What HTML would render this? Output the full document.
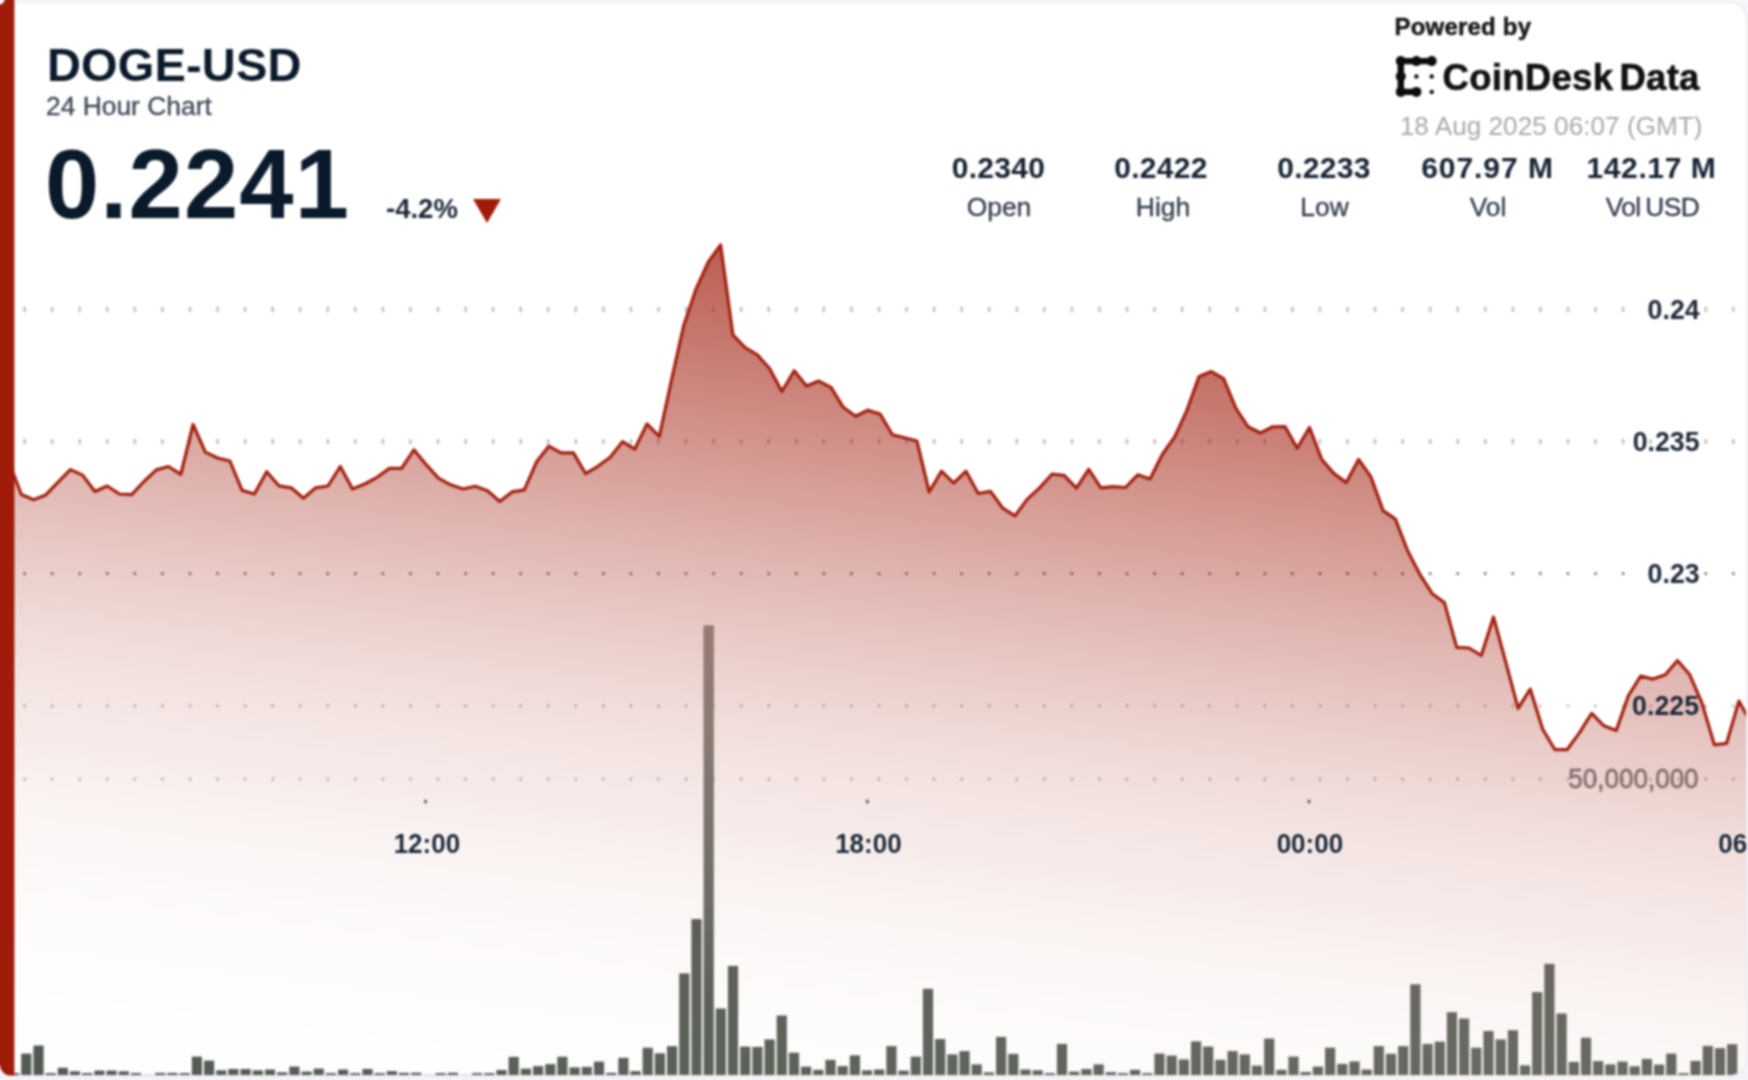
<!DOCTYPE html>
<html>
<head>
<meta charset="utf-8">
<title>DOGE-USD 24 Hour Chart</title>
<style>
html,body{margin:0;padding:0;}
body{width:1748px;height:1080px;overflow:hidden;background:#f6f3f8;font-family:"Liberation Sans",sans-serif;position:relative;}
#wrap{position:absolute;left:-12px;top:-12px;width:1772px;height:1104px;background:#f6f3f8;filter:blur(1.1px);}
#inner{position:absolute;left:12px;top:12px;width:1748px;height:1080px;}
#strip{position:absolute;left:14px;top:-12px;width:1750px;height:15px;background:#f7f7f7;}
#card{position:absolute;left:0;top:2.6px;width:1746px;height:1072.9px;background:#fff;border-radius:0 16px 16px 0;overflow:hidden;box-shadow:0 0 0 1.2px rgba(90,80,100,0.07);}
#redbar{position:absolute;left:0;top:0;width:14.4px;height:1075.5px;background:#a01b0a;border-radius:5px 0 0 9px;}
#chart{position:absolute;left:0;top:-2.6px;width:1748px;height:1080px;}
.t{position:absolute;white-space:nowrap;line-height:1;}
#pair{left:47px;top:40.5px;font-size:47px;font-weight:bold;color:#0b1a2b;letter-spacing:0.15px;}
#sub{left:46px;top:92.5px;font-size:26.4px;color:#3d4858;-webkit-text-stroke:0.3px #3d4858;}
#price{left:45px;top:135.6px;font-size:97.5px;font-weight:bold;color:#0b1a2b;letter-spacing:1.15px;}
#chg{left:386px;top:195px;font-size:27.5px;font-weight:bold;color:#1a2636;}
#tri{position:absolute;left:472.5px;top:198.8px;width:0;height:0;border-left:14.4px solid transparent;border-right:14.4px solid transparent;border-top:24.2px solid #a01b0a;}
#pow{left:1394.5px;top:14.5px;font-size:24px;font-weight:bold;color:#161616;letter-spacing:0.2px;-webkit-text-stroke:0.45px #161616;}
#cd{left:1442.5px;top:59.5px;font-size:36.5px;font-weight:bold;color:#111;letter-spacing:0.3px;-webkit-text-stroke:0.6px #111;}
#date{left:1399.7px;top:113px;font-size:26.1px;color:#a9a9a9;letter-spacing:0.05px;}
.sv{font-size:30px;font-weight:bold;color:#172333;top:152.7px;transform:translateX(-50%);letter-spacing:0.3px;}
.sl{font-size:26.4px;color:#2f3a4a;top:194px;transform:translateX(-50%);-webkit-text-stroke:0.3px #2f3a4a;}
</style>
</head>
<body>
<div id="wrap"><div id="inner">
<div id="strip"></div>
<div id="card">
<svg id="chart" viewBox="0 0 1748 1080" width="1748" height="1080">
<defs>
<linearGradient id="ag" gradientUnits="userSpaceOnUse" x1="716" y1="250" x2="610.6" y2="1093.2">
<stop offset="0.0000" stop-color="#a01b0a" stop-opacity="0.700"/>
<stop offset="0.1176" stop-color="#a01b0a" stop-opacity="0.577"/>
<stop offset="0.2353" stop-color="#a01b0a" stop-opacity="0.448"/>
<stop offset="0.3529" stop-color="#a01b0a" stop-opacity="0.323"/>
<stop offset="0.4706" stop-color="#a01b0a" stop-opacity="0.211"/>
<stop offset="0.5529" stop-color="#a01b0a" stop-opacity="0.145"/>
<stop offset="0.6235" stop-color="#a01b0a" stop-opacity="0.105"/>
<stop offset="0.6824" stop-color="#a01b0a" stop-opacity="0.080"/>
<stop offset="0.7353" stop-color="#a01b0a" stop-opacity="0.052"/>
<stop offset="0.8235" stop-color="#a01b0a" stop-opacity="0.027"/>
<stop offset="0.9176" stop-color="#a01b0a" stop-opacity="0.012"/>
<stop offset="1.0000" stop-color="#a01b0a" stop-opacity="0.002"/>
</linearGradient>
<linearGradient id="bg" gradientUnits="userSpaceOnUse" x1="20" y1="0" x2="1740" y2="0"><stop offset="0" stop-color="#525b53"/><stop offset="0.4" stop-color="#5b625a"/><stop offset="0.85" stop-color="#666c65"/><stop offset="1" stop-color="#656b64"/></linearGradient><linearGradient id="lg" gradientUnits="userSpaceOnUse" x1="0" y1="620" x2="0" y2="1000"><stop offset="0" stop-color="#fff" stop-opacity="0.36"/><stop offset="1" stop-color="#fff" stop-opacity="0"/></linearGradient>
</defs>
<g fill="#6e7076" fill-opacity="0.42"><rect x="23.3" y="306.8" width="2.6" height="5.2"/><rect x="50.9" y="306.8" width="2.6" height="5.2"/><rect x="78.4" y="306.8" width="2.6" height="5.2"/><rect x="106" y="306.8" width="2.6" height="5.2"/><rect x="133.5" y="306.8" width="2.6" height="5.2"/><rect x="161.1" y="306.8" width="2.6" height="5.2"/><rect x="188.7" y="306.8" width="2.6" height="5.2"/><rect x="216.2" y="306.8" width="2.6" height="5.2"/><rect x="243.8" y="306.8" width="2.6" height="5.2"/><rect x="271.3" y="306.8" width="2.6" height="5.2"/><rect x="298.9" y="306.8" width="2.6" height="5.2"/><rect x="326.5" y="306.8" width="2.6" height="5.2"/><rect x="354" y="306.8" width="2.6" height="5.2"/><rect x="381.6" y="306.8" width="2.6" height="5.2"/><rect x="409.1" y="306.8" width="2.6" height="5.2"/><rect x="436.7" y="306.8" width="2.6" height="5.2"/><rect x="464.3" y="306.8" width="2.6" height="5.2"/><rect x="491.8" y="306.8" width="2.6" height="5.2"/><rect x="519.4" y="306.8" width="2.6" height="5.2"/><rect x="546.9" y="306.8" width="2.6" height="5.2"/><rect x="574.5" y="306.8" width="2.6" height="5.2"/><rect x="602.1" y="306.8" width="2.6" height="5.2"/><rect x="629.6" y="306.8" width="2.6" height="5.2"/><rect x="657.2" y="306.8" width="2.6" height="5.2"/><rect x="684.7" y="306.8" width="2.6" height="5.2"/><rect x="712.3" y="306.8" width="2.6" height="5.2"/><rect x="739.9" y="306.8" width="2.6" height="5.2"/><rect x="767.4" y="306.8" width="2.6" height="5.2"/><rect x="795" y="306.8" width="2.6" height="5.2"/><rect x="822.5" y="306.8" width="2.6" height="5.2"/><rect x="850.1" y="306.8" width="2.6" height="5.2"/><rect x="877.7" y="306.8" width="2.6" height="5.2"/><rect x="905.2" y="306.8" width="2.6" height="5.2"/><rect x="932.8" y="306.8" width="2.6" height="5.2"/><rect x="960.3" y="306.8" width="2.6" height="5.2"/><rect x="987.9" y="306.8" width="2.6" height="5.2"/><rect x="1015.5" y="306.8" width="2.6" height="5.2"/><rect x="1043" y="306.8" width="2.6" height="5.2"/><rect x="1070.6" y="306.8" width="2.6" height="5.2"/><rect x="1098.1" y="306.8" width="2.6" height="5.2"/><rect x="1125.7" y="306.8" width="2.6" height="5.2"/><rect x="1153.3" y="306.8" width="2.6" height="5.2"/><rect x="1180.8" y="306.8" width="2.6" height="5.2"/><rect x="1208.4" y="306.8" width="2.6" height="5.2"/><rect x="1235.9" y="306.8" width="2.6" height="5.2"/><rect x="1263.5" y="306.8" width="2.6" height="5.2"/><rect x="1291.1" y="306.8" width="2.6" height="5.2"/><rect x="1318.6" y="306.8" width="2.6" height="5.2"/><rect x="1346.2" y="306.8" width="2.6" height="5.2"/><rect x="1373.7" y="306.8" width="2.6" height="5.2"/><rect x="1401.3" y="306.8" width="2.6" height="5.2"/><rect x="1428.9" y="306.8" width="2.6" height="5.2"/><rect x="1456.4" y="306.8" width="2.6" height="5.2"/><rect x="1484" y="306.8" width="2.6" height="5.2"/><rect x="1511.5" y="306.8" width="2.6" height="5.2"/><rect x="1539.1" y="306.8" width="2.6" height="5.2"/><rect x="1566.7" y="306.8" width="2.6" height="5.2"/><rect x="1594.2" y="306.8" width="2.6" height="5.2"/><rect x="1621.8" y="306.8" width="2.6" height="5.2"/><rect x="1649.3" y="306.8" width="2.6" height="5.2"/><rect x="1676.9" y="306.8" width="2.6" height="5.2"/><rect x="1704.5" y="306.8" width="2.6" height="5.2"/><rect x="1732" y="306.8" width="2.6" height="5.2"/><rect x="23.3" y="439" width="2.6" height="5.2"/><rect x="50.9" y="439" width="2.6" height="5.2"/><rect x="78.4" y="439" width="2.6" height="5.2"/><rect x="106" y="439" width="2.6" height="5.2"/><rect x="133.5" y="439" width="2.6" height="5.2"/><rect x="161.1" y="439" width="2.6" height="5.2"/><rect x="188.7" y="439" width="2.6" height="5.2"/><rect x="216.2" y="439" width="2.6" height="5.2"/><rect x="243.8" y="439" width="2.6" height="5.2"/><rect x="271.3" y="439" width="2.6" height="5.2"/><rect x="298.9" y="439" width="2.6" height="5.2"/><rect x="326.5" y="439" width="2.6" height="5.2"/><rect x="354" y="439" width="2.6" height="5.2"/><rect x="381.6" y="439" width="2.6" height="5.2"/><rect x="409.1" y="439" width="2.6" height="5.2"/><rect x="436.7" y="439" width="2.6" height="5.2"/><rect x="464.3" y="439" width="2.6" height="5.2"/><rect x="491.8" y="439" width="2.6" height="5.2"/><rect x="519.4" y="439" width="2.6" height="5.2"/><rect x="546.9" y="439" width="2.6" height="5.2"/><rect x="574.5" y="439" width="2.6" height="5.2"/><rect x="602.1" y="439" width="2.6" height="5.2"/><rect x="629.6" y="439" width="2.6" height="5.2"/><rect x="657.2" y="439" width="2.6" height="5.2"/><rect x="684.7" y="439" width="2.6" height="5.2"/><rect x="712.3" y="439" width="2.6" height="5.2"/><rect x="739.9" y="439" width="2.6" height="5.2"/><rect x="767.4" y="439" width="2.6" height="5.2"/><rect x="795" y="439" width="2.6" height="5.2"/><rect x="822.5" y="439" width="2.6" height="5.2"/><rect x="850.1" y="439" width="2.6" height="5.2"/><rect x="877.7" y="439" width="2.6" height="5.2"/><rect x="905.2" y="439" width="2.6" height="5.2"/><rect x="932.8" y="439" width="2.6" height="5.2"/><rect x="960.3" y="439" width="2.6" height="5.2"/><rect x="987.9" y="439" width="2.6" height="5.2"/><rect x="1015.5" y="439" width="2.6" height="5.2"/><rect x="1043" y="439" width="2.6" height="5.2"/><rect x="1070.6" y="439" width="2.6" height="5.2"/><rect x="1098.1" y="439" width="2.6" height="5.2"/><rect x="1125.7" y="439" width="2.6" height="5.2"/><rect x="1153.3" y="439" width="2.6" height="5.2"/><rect x="1180.8" y="439" width="2.6" height="5.2"/><rect x="1208.4" y="439" width="2.6" height="5.2"/><rect x="1235.9" y="439" width="2.6" height="5.2"/><rect x="1263.5" y="439" width="2.6" height="5.2"/><rect x="1291.1" y="439" width="2.6" height="5.2"/><rect x="1318.6" y="439" width="2.6" height="5.2"/><rect x="1346.2" y="439" width="2.6" height="5.2"/><rect x="1373.7" y="439" width="2.6" height="5.2"/><rect x="1401.3" y="439" width="2.6" height="5.2"/><rect x="1428.9" y="439" width="2.6" height="5.2"/><rect x="1456.4" y="439" width="2.6" height="5.2"/><rect x="1484" y="439" width="2.6" height="5.2"/><rect x="1511.5" y="439" width="2.6" height="5.2"/><rect x="1539.1" y="439" width="2.6" height="5.2"/><rect x="1566.7" y="439" width="2.6" height="5.2"/><rect x="1594.2" y="439" width="2.6" height="5.2"/><rect x="1621.8" y="439" width="2.6" height="5.2"/><rect x="1649.3" y="439" width="2.6" height="5.2"/><rect x="1676.9" y="439" width="2.6" height="5.2"/><rect x="1704.5" y="439" width="2.6" height="5.2"/><rect x="1732" y="439" width="2.6" height="5.2"/></g><g fill="#6e7076" fill-opacity="0.85"><rect x="23.2" y="572.2" width="2.7" height="2.8"/><rect x="50.8" y="572.2" width="2.7" height="2.8"/><rect x="78.4" y="572.2" width="2.7" height="2.8"/><rect x="105.9" y="572.2" width="2.7" height="2.8"/><rect x="133.5" y="572.2" width="2.7" height="2.8"/><rect x="161" y="572.2" width="2.7" height="2.8"/><rect x="188.6" y="572.2" width="2.7" height="2.8"/><rect x="216.2" y="572.2" width="2.7" height="2.8"/><rect x="243.7" y="572.2" width="2.7" height="2.8"/><rect x="271.3" y="572.2" width="2.7" height="2.8"/><rect x="298.8" y="572.2" width="2.7" height="2.8"/><rect x="326.4" y="572.2" width="2.7" height="2.8"/><rect x="354" y="572.2" width="2.7" height="2.8"/><rect x="381.5" y="572.2" width="2.7" height="2.8"/><rect x="409.1" y="572.2" width="2.7" height="2.8"/><rect x="436.6" y="572.2" width="2.7" height="2.8"/><rect x="464.2" y="572.2" width="2.7" height="2.8"/><rect x="491.8" y="572.2" width="2.7" height="2.8"/><rect x="519.3" y="572.2" width="2.7" height="2.8"/><rect x="546.9" y="572.2" width="2.7" height="2.8"/><rect x="574.4" y="572.2" width="2.7" height="2.8"/><rect x="602" y="572.2" width="2.7" height="2.8"/><rect x="629.6" y="572.2" width="2.7" height="2.8"/><rect x="657.1" y="572.2" width="2.7" height="2.8"/><rect x="684.7" y="572.2" width="2.7" height="2.8"/><rect x="712.2" y="572.2" width="2.7" height="2.8"/><rect x="739.8" y="572.2" width="2.7" height="2.8"/><rect x="767.4" y="572.2" width="2.7" height="2.8"/><rect x="794.9" y="572.2" width="2.7" height="2.8"/><rect x="822.5" y="572.2" width="2.7" height="2.8"/><rect x="850" y="572.2" width="2.7" height="2.8"/><rect x="877.6" y="572.2" width="2.7" height="2.8"/><rect x="905.2" y="572.2" width="2.7" height="2.8"/><rect x="932.7" y="572.2" width="2.7" height="2.8"/><rect x="960.3" y="572.2" width="2.7" height="2.8"/><rect x="987.8" y="572.2" width="2.7" height="2.8"/><rect x="1015.4" y="572.2" width="2.7" height="2.8"/><rect x="1043" y="572.2" width="2.7" height="2.8"/><rect x="1070.5" y="572.2" width="2.7" height="2.8"/><rect x="1098.1" y="572.2" width="2.7" height="2.8"/><rect x="1125.6" y="572.2" width="2.7" height="2.8"/><rect x="1153.2" y="572.2" width="2.7" height="2.8"/><rect x="1180.8" y="572.2" width="2.7" height="2.8"/><rect x="1208.3" y="572.2" width="2.7" height="2.8"/><rect x="1235.9" y="572.2" width="2.7" height="2.8"/><rect x="1263.5" y="572.2" width="2.7" height="2.8"/><rect x="1291" y="572.2" width="2.7" height="2.8"/><rect x="1318.6" y="572.2" width="2.7" height="2.8"/><rect x="1346.1" y="572.2" width="2.7" height="2.8"/><rect x="1373.7" y="572.2" width="2.7" height="2.8"/><rect x="1401.2" y="572.2" width="2.7" height="2.8"/><rect x="1428.8" y="572.2" width="2.7" height="2.8"/><rect x="1456.4" y="572.2" width="2.7" height="2.8"/><rect x="1483.9" y="572.2" width="2.7" height="2.8"/><rect x="1511.5" y="572.2" width="2.7" height="2.8"/><rect x="1539" y="572.2" width="2.7" height="2.8"/><rect x="1566.6" y="572.2" width="2.7" height="2.8"/><rect x="1594.2" y="572.2" width="2.7" height="2.8"/><rect x="1621.7" y="572.2" width="2.7" height="2.8"/><rect x="1649.3" y="572.2" width="2.7" height="2.8"/><rect x="1676.8" y="572.2" width="2.7" height="2.8"/><rect x="1704.4" y="572.2" width="2.7" height="2.8"/><rect x="1732" y="572.2" width="2.7" height="2.8"/></g><g fill="#6e7076" fill-opacity="0.42"><rect x="23.4" y="704.5" width="2.5" height="3.1"/><rect x="50.9" y="704.5" width="2.5" height="3.1"/><rect x="78.5" y="704.5" width="2.5" height="3.1"/><rect x="106" y="704.5" width="2.5" height="3.1"/><rect x="133.6" y="704.5" width="2.5" height="3.1"/><rect x="161.1" y="704.5" width="2.5" height="3.1"/><rect x="188.7" y="704.5" width="2.5" height="3.1"/><rect x="216.3" y="704.5" width="2.5" height="3.1"/><rect x="243.8" y="704.5" width="2.5" height="3.1"/><rect x="271.4" y="704.5" width="2.5" height="3.1"/><rect x="298.9" y="704.5" width="2.5" height="3.1"/><rect x="326.5" y="704.5" width="2.5" height="3.1"/><rect x="354.1" y="704.5" width="2.5" height="3.1"/><rect x="381.6" y="704.5" width="2.5" height="3.1"/><rect x="409.2" y="704.5" width="2.5" height="3.1"/><rect x="436.8" y="704.5" width="2.5" height="3.1"/><rect x="464.3" y="704.5" width="2.5" height="3.1"/><rect x="491.9" y="704.5" width="2.5" height="3.1"/><rect x="519.4" y="704.5" width="2.5" height="3.1"/><rect x="547" y="704.5" width="2.5" height="3.1"/><rect x="574.5" y="704.5" width="2.5" height="3.1"/><rect x="602.1" y="704.5" width="2.5" height="3.1"/><rect x="629.7" y="704.5" width="2.5" height="3.1"/><rect x="657.2" y="704.5" width="2.5" height="3.1"/><rect x="684.8" y="704.5" width="2.5" height="3.1"/><rect x="712.4" y="704.5" width="2.5" height="3.1"/><rect x="739.9" y="704.5" width="2.5" height="3.1"/><rect x="767.5" y="704.5" width="2.5" height="3.1"/><rect x="795" y="704.5" width="2.5" height="3.1"/><rect x="822.6" y="704.5" width="2.5" height="3.1"/><rect x="850.1" y="704.5" width="2.5" height="3.1"/><rect x="877.7" y="704.5" width="2.5" height="3.1"/><rect x="905.3" y="704.5" width="2.5" height="3.1"/><rect x="932.8" y="704.5" width="2.5" height="3.1"/><rect x="960.4" y="704.5" width="2.5" height="3.1"/><rect x="987.9" y="704.5" width="2.5" height="3.1"/><rect x="1015.5" y="704.5" width="2.5" height="3.1"/><rect x="1043.1" y="704.5" width="2.5" height="3.1"/><rect x="1070.6" y="704.5" width="2.5" height="3.1"/><rect x="1098.2" y="704.5" width="2.5" height="3.1"/><rect x="1125.7" y="704.5" width="2.5" height="3.1"/><rect x="1153.3" y="704.5" width="2.5" height="3.1"/><rect x="1180.9" y="704.5" width="2.5" height="3.1"/><rect x="1208.4" y="704.5" width="2.5" height="3.1"/><rect x="1236" y="704.5" width="2.5" height="3.1"/><rect x="1263.5" y="704.5" width="2.5" height="3.1"/><rect x="1291.1" y="704.5" width="2.5" height="3.1"/><rect x="1318.7" y="704.5" width="2.5" height="3.1"/><rect x="1346.2" y="704.5" width="2.5" height="3.1"/><rect x="1373.8" y="704.5" width="2.5" height="3.1"/><rect x="1401.3" y="704.5" width="2.5" height="3.1"/><rect x="1428.9" y="704.5" width="2.5" height="3.1"/><rect x="1456.5" y="704.5" width="2.5" height="3.1"/><rect x="1484" y="704.5" width="2.5" height="3.1"/><rect x="1511.6" y="704.5" width="2.5" height="3.1"/><rect x="1539.1" y="704.5" width="2.5" height="3.1"/><rect x="1566.7" y="704.5" width="2.5" height="3.1"/><rect x="1594.3" y="704.5" width="2.5" height="3.1"/><rect x="1621.8" y="704.5" width="2.5" height="3.1"/><rect x="1649.4" y="704.5" width="2.5" height="3.1"/><rect x="1676.9" y="704.5" width="2.5" height="3.1"/><rect x="1704.5" y="704.5" width="2.5" height="3.1"/><rect x="1732.1" y="704.5" width="2.5" height="3.1"/><rect x="23.4" y="777.6" width="2.5" height="3.1"/><rect x="50.9" y="777.6" width="2.5" height="3.1"/><rect x="78.5" y="777.6" width="2.5" height="3.1"/><rect x="106" y="777.6" width="2.5" height="3.1"/><rect x="133.6" y="777.6" width="2.5" height="3.1"/><rect x="161.1" y="777.6" width="2.5" height="3.1"/><rect x="188.7" y="777.6" width="2.5" height="3.1"/><rect x="216.3" y="777.6" width="2.5" height="3.1"/><rect x="243.8" y="777.6" width="2.5" height="3.1"/><rect x="271.4" y="777.6" width="2.5" height="3.1"/><rect x="298.9" y="777.6" width="2.5" height="3.1"/><rect x="326.5" y="777.6" width="2.5" height="3.1"/><rect x="354.1" y="777.6" width="2.5" height="3.1"/><rect x="381.6" y="777.6" width="2.5" height="3.1"/><rect x="409.2" y="777.6" width="2.5" height="3.1"/><rect x="436.8" y="777.6" width="2.5" height="3.1"/><rect x="464.3" y="777.6" width="2.5" height="3.1"/><rect x="491.9" y="777.6" width="2.5" height="3.1"/><rect x="519.4" y="777.6" width="2.5" height="3.1"/><rect x="547" y="777.6" width="2.5" height="3.1"/><rect x="574.5" y="777.6" width="2.5" height="3.1"/><rect x="602.1" y="777.6" width="2.5" height="3.1"/><rect x="629.7" y="777.6" width="2.5" height="3.1"/><rect x="657.2" y="777.6" width="2.5" height="3.1"/><rect x="684.8" y="777.6" width="2.5" height="3.1"/><rect x="712.4" y="777.6" width="2.5" height="3.1"/><rect x="739.9" y="777.6" width="2.5" height="3.1"/><rect x="767.5" y="777.6" width="2.5" height="3.1"/><rect x="795" y="777.6" width="2.5" height="3.1"/><rect x="822.6" y="777.6" width="2.5" height="3.1"/><rect x="850.1" y="777.6" width="2.5" height="3.1"/><rect x="877.7" y="777.6" width="2.5" height="3.1"/><rect x="905.3" y="777.6" width="2.5" height="3.1"/><rect x="932.8" y="777.6" width="2.5" height="3.1"/><rect x="960.4" y="777.6" width="2.5" height="3.1"/><rect x="987.9" y="777.6" width="2.5" height="3.1"/><rect x="1015.5" y="777.6" width="2.5" height="3.1"/><rect x="1043.1" y="777.6" width="2.5" height="3.1"/><rect x="1070.6" y="777.6" width="2.5" height="3.1"/><rect x="1098.2" y="777.6" width="2.5" height="3.1"/><rect x="1125.7" y="777.6" width="2.5" height="3.1"/><rect x="1153.3" y="777.6" width="2.5" height="3.1"/><rect x="1180.9" y="777.6" width="2.5" height="3.1"/><rect x="1208.4" y="777.6" width="2.5" height="3.1"/><rect x="1236" y="777.6" width="2.5" height="3.1"/><rect x="1263.5" y="777.6" width="2.5" height="3.1"/><rect x="1291.1" y="777.6" width="2.5" height="3.1"/><rect x="1318.7" y="777.6" width="2.5" height="3.1"/><rect x="1346.2" y="777.6" width="2.5" height="3.1"/><rect x="1373.8" y="777.6" width="2.5" height="3.1"/><rect x="1401.3" y="777.6" width="2.5" height="3.1"/><rect x="1428.9" y="777.6" width="2.5" height="3.1"/><rect x="1456.5" y="777.6" width="2.5" height="3.1"/><rect x="1484" y="777.6" width="2.5" height="3.1"/><rect x="1511.6" y="777.6" width="2.5" height="3.1"/><rect x="1539.1" y="777.6" width="2.5" height="3.1"/><rect x="1566.7" y="777.6" width="2.5" height="3.1"/><rect x="1594.3" y="777.6" width="2.5" height="3.1"/><rect x="1621.8" y="777.6" width="2.5" height="3.1"/><rect x="1649.4" y="777.6" width="2.5" height="3.1"/><rect x="1676.9" y="777.6" width="2.5" height="3.1"/><rect x="1704.5" y="777.6" width="2.5" height="3.1"/><rect x="1732.1" y="777.6" width="2.5" height="3.1"/></g>

<g fill="url(#bg)"><rect x="9" y="1073.1" width="10.2" height="2.2"/><rect x="21.2" y="1053.6" width="10.2" height="21.7"/><rect x="33.4" y="1045.5" width="10.2" height="29.8"/><rect x="45.6" y="1073.1" width="10.2" height="2.2"/><rect x="57.8" y="1067.8" width="10.2" height="7.5"/><rect x="69.9" y="1071.3" width="10.2" height="4"/><rect x="82.1" y="1073.1" width="10.2" height="2.2"/><rect x="94.3" y="1070.6" width="10.2" height="4.7"/><rect x="106.5" y="1070.6" width="10.2" height="4.7"/><rect x="118.7" y="1071.3" width="10.2" height="4"/><rect x="130.9" y="1073.1" width="10.2" height="2.2"/><rect x="143.1" y="1074.8" width="10.2" height="0.5"/><rect x="155.2" y="1072.9" width="10.2" height="2.4"/><rect x="167.4" y="1072.9" width="10.2" height="2.4"/><rect x="179.6" y="1073.1" width="10.2" height="2.2"/><rect x="191.8" y="1056.6" width="10.2" height="18.7"/><rect x="204" y="1060.6" width="10.2" height="14.7"/><rect x="216.2" y="1070.3" width="10.2" height="5"/><rect x="228.3" y="1069" width="10.2" height="6.3"/><rect x="240.5" y="1069" width="10.2" height="6.3"/><rect x="252.7" y="1070.3" width="10.2" height="5"/><rect x="264.9" y="1069.5" width="10.2" height="5.8"/><rect x="277.1" y="1072.3" width="10.2" height="3"/><rect x="289.3" y="1066.6" width="10.2" height="8.7"/><rect x="301.5" y="1071.6" width="10.2" height="3.7"/><rect x="313.6" y="1068.6" width="10.2" height="6.7"/><rect x="325.8" y="1073.1" width="10.2" height="2.2"/><rect x="338" y="1069.5" width="10.2" height="5.8"/><rect x="350.2" y="1073.1" width="10.2" height="2.2"/><rect x="362.4" y="1069" width="10.2" height="6.3"/><rect x="374.6" y="1073.1" width="10.2" height="2.2"/><rect x="386.8" y="1071.1" width="10.2" height="4.2"/><rect x="398.9" y="1072.8" width="10.2" height="2.5"/><rect x="411.1" y="1072.7" width="10.2" height="2.6"/><rect x="423.3" y="1074.8" width="10.2" height="0.5"/><rect x="435.5" y="1073.1" width="10.2" height="2.2"/><rect x="447.7" y="1072.7" width="10.2" height="2.6"/><rect x="459.9" y="1074.8" width="10.2" height="0.5"/><rect x="472" y="1073.1" width="10.2" height="2.2"/><rect x="484.2" y="1073.1" width="10.2" height="2.2"/><rect x="496.4" y="1070" width="10.2" height="5.3"/><rect x="508.6" y="1056.9" width="10.2" height="18.4"/><rect x="520.8" y="1068.6" width="10.2" height="6.7"/><rect x="533" y="1066.1" width="10.2" height="9.2"/><rect x="545.2" y="1064.1" width="10.2" height="11.2"/><rect x="557.3" y="1056.8" width="10.2" height="18.5"/><rect x="569.5" y="1067.4" width="10.2" height="7.9"/><rect x="581.7" y="1066.9" width="10.2" height="8.4"/><rect x="593.9" y="1061.6" width="10.2" height="13.7"/><rect x="606.1" y="1072.8" width="10.2" height="2.5"/><rect x="618.3" y="1057.8" width="10.2" height="17.5"/><rect x="630.4" y="1071.1" width="10.2" height="4.2"/><rect x="642.6" y="1047.7" width="10.2" height="27.6"/><rect x="654.8" y="1053.3" width="10.2" height="22"/><rect x="667" y="1046.1" width="10.2" height="29.2"/><rect x="679.2" y="973.4" width="10.2" height="101.9"/><rect x="691.4" y="919.1" width="10.2" height="156.2"/><rect x="703.6" y="625.3" width="10.2" height="450"/><rect x="715.7" y="1008.5" width="10.2" height="66.8"/><rect x="727.9" y="965.9" width="10.2" height="109.4"/><rect x="740.1" y="1046.6" width="10.2" height="28.7"/><rect x="752.3" y="1046.9" width="10.2" height="28.4"/><rect x="764.5" y="1039.4" width="10.2" height="35.9"/><rect x="776.7" y="1015.5" width="10.2" height="59.8"/><rect x="788.9" y="1052.7" width="10.2" height="22.6"/><rect x="801" y="1066.6" width="10.2" height="8.7"/><rect x="813.2" y="1069.8" width="10.2" height="5.5"/><rect x="825.4" y="1059.9" width="10.2" height="15.4"/><rect x="837.6" y="1066.1" width="10.2" height="9.2"/><rect x="849.8" y="1055.3" width="10.2" height="20"/><rect x="862" y="1070.3" width="10.2" height="5"/><rect x="874.1" y="1069.5" width="10.2" height="5.8"/><rect x="886.3" y="1046.1" width="10.2" height="29.2"/><rect x="898.5" y="1070.6" width="10.2" height="4.7"/><rect x="910.7" y="1056.6" width="10.2" height="18.7"/><rect x="922.9" y="988.8" width="10.2" height="86.5"/><rect x="935.1" y="1039" width="10.2" height="36.3"/><rect x="947.3" y="1054.4" width="10.2" height="20.9"/><rect x="959.4" y="1051.1" width="10.2" height="24.2"/><rect x="971.6" y="1064.4" width="10.2" height="10.9"/><rect x="983.8" y="1072.3" width="10.2" height="3"/><rect x="996" y="1036.9" width="10.2" height="38.4"/><rect x="1008.2" y="1053.9" width="10.2" height="21.4"/><rect x="1020.4" y="1069.5" width="10.2" height="5.8"/><rect x="1032.6" y="1070.3" width="10.2" height="5"/><rect x="1044.7" y="1073.1" width="10.2" height="2.2"/><rect x="1056.9" y="1043.9" width="10.2" height="31.4"/><rect x="1069.1" y="1071.6" width="10.2" height="3.7"/><rect x="1081.3" y="1069" width="10.2" height="6.3"/><rect x="1093.5" y="1064.4" width="10.2" height="10.9"/><rect x="1105.7" y="1072.1" width="10.2" height="3.2"/><rect x="1117.9" y="1073.1" width="10.2" height="2.2"/><rect x="1130" y="1069.8" width="10.2" height="5.5"/><rect x="1142.2" y="1073.1" width="10.2" height="2.2"/><rect x="1154.4" y="1053.6" width="10.2" height="21.7"/><rect x="1166.6" y="1055.6" width="10.2" height="19.7"/><rect x="1178.8" y="1059.4" width="10.2" height="15.9"/><rect x="1191" y="1041.4" width="10.2" height="33.9"/><rect x="1203.1" y="1046.6" width="10.2" height="28.7"/><rect x="1215.3" y="1059.8" width="10.2" height="15.5"/><rect x="1227.5" y="1051.1" width="10.2" height="24.2"/><rect x="1239.7" y="1054.4" width="10.2" height="20.9"/><rect x="1251.9" y="1065.6" width="10.2" height="9.7"/><rect x="1264.1" y="1038.5" width="10.2" height="36.8"/><rect x="1276.3" y="1069.8" width="10.2" height="5.5"/><rect x="1288.4" y="1056.6" width="10.2" height="18.7"/><rect x="1300.6" y="1072" width="10.2" height="3.3"/><rect x="1312.8" y="1066.6" width="10.2" height="8.7"/><rect x="1325" y="1047.7" width="10.2" height="27.6"/><rect x="1337.2" y="1063.9" width="10.2" height="11.4"/><rect x="1349.4" y="1061.4" width="10.2" height="13.9"/><rect x="1361.6" y="1069.5" width="10.2" height="5.8"/><rect x="1373.7" y="1046.1" width="10.2" height="29.2"/><rect x="1385.9" y="1053.8" width="10.2" height="21.5"/><rect x="1398.1" y="1046.1" width="10.2" height="29.2"/><rect x="1410.3" y="984.3" width="10.2" height="91"/><rect x="1422.5" y="1043.9" width="10.2" height="31.4"/><rect x="1434.7" y="1041.6" width="10.2" height="33.7"/><rect x="1446.8" y="1012.2" width="10.2" height="63.1"/><rect x="1459" y="1018.5" width="10.2" height="56.8"/><rect x="1471.2" y="1047.7" width="10.2" height="27.6"/><rect x="1483.4" y="1031" width="10.2" height="44.3"/><rect x="1495.6" y="1039.4" width="10.2" height="35.9"/><rect x="1507.8" y="1030.2" width="10.2" height="45.1"/><rect x="1520" y="1065.3" width="10.2" height="10"/><rect x="1532.1" y="992.1" width="10.2" height="83.2"/><rect x="1544.3" y="963.9" width="10.2" height="111.4"/><rect x="1556.5" y="1013.5" width="10.2" height="61.8"/><rect x="1568.7" y="1061.9" width="10.2" height="13.4"/><rect x="1580.9" y="1037.7" width="10.2" height="37.6"/><rect x="1593.1" y="1061.1" width="10.2" height="14.2"/><rect x="1605.2" y="1064.4" width="10.2" height="10.9"/><rect x="1617.4" y="1061.6" width="10.2" height="13.7"/><rect x="1629.6" y="1066.3" width="10.2" height="9"/><rect x="1641.8" y="1058.9" width="10.2" height="16.4"/><rect x="1654" y="1064.6" width="10.2" height="10.7"/><rect x="1666.2" y="1053.6" width="10.2" height="21.7"/><rect x="1678.4" y="1073.1" width="10.2" height="2.2"/><rect x="1690.5" y="1060.9" width="10.2" height="14.4"/><rect x="1702.7" y="1045.9" width="10.2" height="29.4"/><rect x="1714.9" y="1048.1" width="10.2" height="27.2"/><rect x="1727.1" y="1044.2" width="10.2" height="31.1"/></g><rect x="703.8" y="625" width="9.8" height="375" fill="url(#lg)"/>
<path d="M9 462 L21.3 494.5 L33.6 499.7 L45.8 494.9 L58.1 482.2 L70.4 469.6 L82.6 475.1 L94.9 491.5 L107.2 486 L119.4 494 L131.7 494.7 L144 481.5 L156.3 469.9 L168.5 466.5 L180.8 474.4 L193.1 424.5 L205.3 452.1 L217.6 458 L229.9 461 L242.1 490.4 L254.4 494 L266.7 471.7 L278.9 485.8 L291.2 487.8 L303.5 498.2 L315.7 487.8 L328 486 L340.3 466.5 L352.5 489 L364.8 484 L377.1 477.3 L389.4 468.4 L401.6 468.4 L413.9 449.8 L426.2 464.7 L438.4 478.1 L450.7 484.8 L463 489 L475.2 486.3 L487.5 490.8 L499.8 501.5 L512 491.9 L524.3 489.8 L536.6 461.8 L548.8 446.2 L561.1 452.9 L573.4 452.9 L585.7 473.7 L597.9 466.3 L610.2 457.3 L622.5 441.7 L634.7 449.2 L647 423.9 L659.3 436.5 L671.5 380 L683.8 325.2 L696.1 288.8 L708.3 262 L720.6 244.9 L732.9 334.9 L745.1 347.5 L757.4 354.9 L769.7 368.8 L781.9 391.5 L794.2 370.7 L806.5 386 L818.8 381.1 L831 387.4 L843.3 407.3 L855.6 416.2 L867.8 410.2 L880.1 414 L892.4 434.8 L904.6 437.8 L916.9 441 L929.2 492 L941.4 471.2 L953.7 483.1 L966 471.2 L978.2 493.5 L990.5 491.4 L1002.8 508.2 L1015 515.9 L1027.3 499.1 L1039.6 487.9 L1051.9 474.2 L1064.1 475.3 L1076.4 488.2 L1088.7 469.3 L1100.9 487.9 L1113.2 486.7 L1125.5 487.5 L1137.7 474.8 L1150 479 L1162.3 454.5 L1174.5 437.3 L1186.8 410.6 L1199.1 376.4 L1211.3 371.6 L1223.6 378.6 L1235.9 408.3 L1248.1 426.8 L1260.4 433 L1272.7 426.8 L1285 426.5 L1297.2 448.3 L1309.5 427.5 L1321.8 459.5 L1334 473.6 L1346.3 482.6 L1358.6 459.5 L1370.8 476.6 L1383.1 510.6 L1395.4 519.1 L1407.6 550.8 L1419.9 574.4 L1432.2 593.7 L1444.4 602.6 L1456.7 647.3 L1469 648 L1481.3 655.5 L1493.5 617 L1505.8 662.4 L1518.1 708.3 L1530.3 689.2 L1542.6 729 L1554.9 749.7 L1567.1 749.7 L1579.4 732.9 L1591.7 713.4 L1603.9 725.8 L1616.2 730.6 L1628.5 695.5 L1640.7 676.1 L1653 679.1 L1665.3 674.8 L1677.5 660.5 L1689.8 674.8 L1702.1 703.5 L1714.4 744.9 L1726.6 743.3 L1738.9 701.1 L1751.2 723.5 L1751.2 1075.3 L9 1075.3 Z" fill="url(#ag)"/>
<path d="M9 462 L21.3 494.5 L33.6 499.7 L45.8 494.9 L58.1 482.2 L70.4 469.6 L82.6 475.1 L94.9 491.5 L107.2 486 L119.4 494 L131.7 494.7 L144 481.5 L156.3 469.9 L168.5 466.5 L180.8 474.4 L193.1 424.5 L205.3 452.1 L217.6 458 L229.9 461 L242.1 490.4 L254.4 494 L266.7 471.7 L278.9 485.8 L291.2 487.8 L303.5 498.2 L315.7 487.8 L328 486 L340.3 466.5 L352.5 489 L364.8 484 L377.1 477.3 L389.4 468.4 L401.6 468.4 L413.9 449.8 L426.2 464.7 L438.4 478.1 L450.7 484.8 L463 489 L475.2 486.3 L487.5 490.8 L499.8 501.5 L512 491.9 L524.3 489.8 L536.6 461.8 L548.8 446.2 L561.1 452.9 L573.4 452.9 L585.7 473.7 L597.9 466.3 L610.2 457.3 L622.5 441.7 L634.7 449.2 L647 423.9 L659.3 436.5 L671.5 380 L683.8 325.2 L696.1 288.8 L708.3 262 L720.6 244.9 L732.9 334.9 L745.1 347.5 L757.4 354.9 L769.7 368.8 L781.9 391.5 L794.2 370.7 L806.5 386 L818.8 381.1 L831 387.4 L843.3 407.3 L855.6 416.2 L867.8 410.2 L880.1 414 L892.4 434.8 L904.6 437.8 L916.9 441 L929.2 492 L941.4 471.2 L953.7 483.1 L966 471.2 L978.2 493.5 L990.5 491.4 L1002.8 508.2 L1015 515.9 L1027.3 499.1 L1039.6 487.9 L1051.9 474.2 L1064.1 475.3 L1076.4 488.2 L1088.7 469.3 L1100.9 487.9 L1113.2 486.7 L1125.5 487.5 L1137.7 474.8 L1150 479 L1162.3 454.5 L1174.5 437.3 L1186.8 410.6 L1199.1 376.4 L1211.3 371.6 L1223.6 378.6 L1235.9 408.3 L1248.1 426.8 L1260.4 433 L1272.7 426.8 L1285 426.5 L1297.2 448.3 L1309.5 427.5 L1321.8 459.5 L1334 473.6 L1346.3 482.6 L1358.6 459.5 L1370.8 476.6 L1383.1 510.6 L1395.4 519.1 L1407.6 550.8 L1419.9 574.4 L1432.2 593.7 L1444.4 602.6 L1456.7 647.3 L1469 648 L1481.3 655.5 L1493.5 617 L1505.8 662.4 L1518.1 708.3 L1530.3 689.2 L1542.6 729 L1554.9 749.7 L1567.1 749.7 L1579.4 732.9 L1591.7 713.4 L1603.9 725.8 L1616.2 730.6 L1628.5 695.5 L1640.7 676.1 L1653 679.1 L1665.3 674.8 L1677.5 660.5 L1689.8 674.8 L1702.1 703.5 L1714.4 744.9 L1726.6 743.3 L1738.9 701.1 L1751.2 723.5" fill="none" stroke="#a3200f" stroke-width="3.2" stroke-linejoin="round" stroke-linecap="round"/>
<g fill="#4a4f57" fill-opacity="0.85"><rect x="424.2" y="799.7" width="2.8" height="3.6"/><rect x="865.9" y="799.7" width="2.8" height="3.6"/><rect x="1307.6" y="799.7" width="2.8" height="3.6"/><rect x="1746.4" y="799.7" width="2.8" height="3.6"/></g>
<g font-family="Liberation Sans, sans-serif" font-weight="bold" font-size="28" fill="#1c2737">
<text transform="translate(1699.6 319.0) scale(0.955 1)" text-anchor="end">0.24</text>
<text transform="translate(1699.6 451.0) scale(0.955 1)" text-anchor="end">0.235</text>
<text transform="translate(1699.6 583.0) scale(0.955 1)" text-anchor="end">0.23</text>
<text transform="translate(1699.0 715.2) scale(0.955 1)" text-anchor="end">0.225</text>
</g>
<g font-family="Liberation Sans, sans-serif" font-weight="bold" font-size="28" fill="#1c2737" stroke="#fff" stroke-opacity="0.4" stroke-width="3" paint-order="stroke" stroke-linejoin="round">
<text transform="translate(426.9 852.6) scale(0.93 1)" text-anchor="middle">12:00</text>
<text transform="translate(868.4 852.6) scale(0.93 1)" text-anchor="middle">18:00</text>
<text transform="translate(1309.9 852.6) scale(0.93 1)" text-anchor="middle">00:00</text>
<text transform="translate(1751.6 852.6) scale(0.93 1)" text-anchor="middle">06:00</text>
</g>
<text transform="translate(1698.6 787.6) scale(0.93 1)" text-anchor="end" font-family="Liberation Sans, sans-serif" font-size="28" fill="#5b4646" fill-opacity="0.66" stroke="#5b4646" stroke-opacity="0.55" stroke-width="0.8">50,000,000</text>
</svg>
</div>
<svg style="position:absolute;left:-12px;top:-12px;overflow:visible" width="40" height="1104" viewBox="-12 -12 40 1104"><path d="M-12 -12 H14.4 V1075.5 H10 A10 10 0 0 1 0 1065.5 H-12 Z" fill="#a01b0a"/><circle cx="-0.5" cy="-0.5" r="5" fill="#fff"/></svg>

<div class="t" id="pair">DOGE-USD</div>
<div class="t" id="sub">24 Hour Chart</div>
<div class="t" id="price">0.2241</div>
<div class="t" id="chg">-4.2%</div>
<div id="tri"></div>

<div class="t" id="pow">Powered by</div>
<svg style="position:absolute;left:1390px;top:50px" width="52" height="52" viewBox="1390 50 52 52">
<g fill="#0c0c0c" stroke="#0c0c0c">
<path d="M1400.8 61.1 H1431.7 M1400.8 61.1 V91.9 H1416.4" fill="none" stroke-width="6.4" stroke-linecap="round" stroke-linejoin="round"/>
<g stroke="none">
<circle cx="1400.8" cy="61.1" r="5.0"/><circle cx="1416.4" cy="61.1" r="5.0"/><circle cx="1431.7" cy="61.1" r="5.0"/>
<circle cx="1400.8" cy="76.4" r="5.0"/><circle cx="1400.8" cy="91.9" r="5.0"/><circle cx="1416.4" cy="91.9" r="5.0"/>
<circle cx="1416.4" cy="76.4" r="2.2"/><circle cx="1431.7" cy="76.4" r="2.2"/><circle cx="1431.7" cy="91.9" r="2.2"/>
</g></g>
</svg>
<div class="t" id="cd">CoinDesk<span style="letter-spacing:-4px"> </span>Data</div>
<div class="t" id="date">18 Aug 2025 06:07 (GMT)</div>

<div class="t sv" style="left:998.5px">0.2340</div><div class="t sl" style="left:999px">Open</div>
<div class="t sv" style="left:1161px">0.2422</div><div class="t sl" style="left:1163px">High</div>
<div class="t sv" style="left:1324px">0.2233</div><div class="t sl" style="left:1324.5px">Low</div>
<div class="t sv" style="left:1487.5px;letter-spacing:0.95px">607.97 M</div><div class="t sl" style="left:1488px">Vol</div>
<div class="t sv" style="left:1651.5px;letter-spacing:0.6px">142.17 M</div><div class="t sl" style="left:1652.5px;letter-spacing:-0.6px;word-spacing:-2px">Vol USD</div>
</div></div>
</body>
</html>
